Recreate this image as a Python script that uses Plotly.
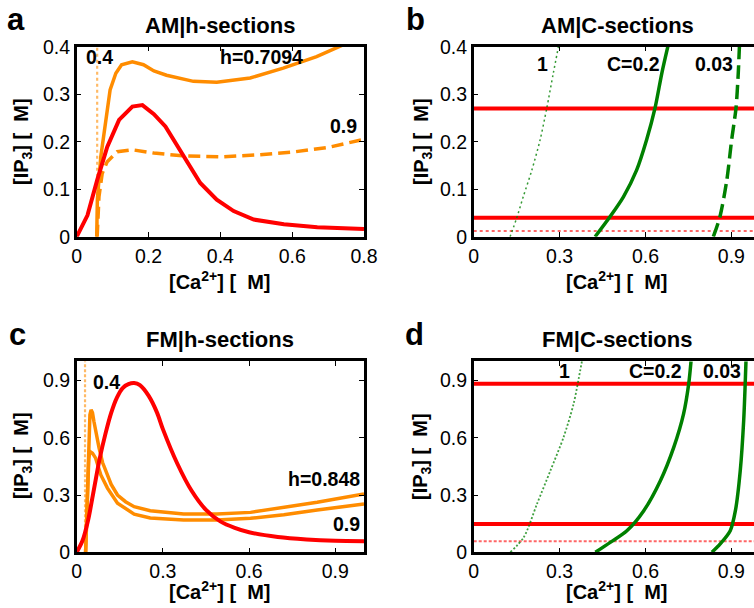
import plotly.graph_objects as go

# ---------------- data ----------------
# Panel a: AM | h-sections
a_red_x = [0, 0.03, 0.057, 0.085, 0.118, 0.155, 0.183, 0.215, 0.247, 0.298, 0.344, 0.39, 0.437, 0.493, 0.577, 0.67, 0.8]
a_red_y = [0, 0.045, 0.119, 0.189, 0.246, 0.274, 0.277, 0.258, 0.232, 0.169, 0.113, 0.078, 0.054, 0.036, 0.026, 0.02, 0.016]
a_h07094_x = [0.0557, 0.0575, 0.067, 0.081, 0.093, 0.109, 0.125, 0.155, 0.186, 0.215, 0.25, 0.325, 0.39, 0.483, 0.575, 0.668, 0.733, 0.76]
a_h07094_y = [0, 0.077, 0.168, 0.239, 0.309, 0.344, 0.362, 0.368, 0.362, 0.349, 0.34, 0.327, 0.325, 0.334, 0.355, 0.379, 0.4, 0.41]
a_h09_x = [0.057, 0.062, 0.071, 0.085, 0.113, 0.155, 0.215, 0.3, 0.4, 0.5, 0.6, 0.7, 0.8]
a_h09_y = [0, 0.084, 0.133, 0.158, 0.179, 0.183, 0.176, 0.17, 0.168, 0.172, 0.178, 0.188, 0.205]
a_h04_x = [0.057, 0.057]
a_h04_y = [0, 0.4]

# Panel b: AM | C-sections
b_C1_x = [0.127, 0.150, 0.173, 0.203, 0.232, 0.255, 0.278, 0.296]
b_C1_y = [0, 0.039, 0.084, 0.140, 0.204, 0.270, 0.344, 0.4]
b_C02_x = [0.424, 0.476, 0.523, 0.569, 0.604, 0.633, 0.657, 0.678]
b_C02_y = [0, 0.042, 0.084, 0.140, 0.204, 0.270, 0.344, 0.4]
b_C003_x = [0.837, 0.860, 0.884, 0.901, 0.916, 0.924, 0.928]
b_C003_y = [0, 0.042, 0.119, 0.204, 0.270, 0.344, 0.4]
b_red_levels = [0.270, 0.040]
b_red_dotted_level = 0.012

# Panel c: FM | h-sections
c_red_x = [0, 0.02, 0.04, 0.06, 0.08, 0.1, 0.12, 0.14, 0.16, 0.18, 0.2, 0.22, 0.25, 0.28, 0.3, 0.35, 0.4, 0.45, 0.5, 0.55, 0.6, 0.7, 0.8, 0.9, 1.0]
c_red_y = [0, 0.06, 0.17, 0.33, 0.49, 0.62, 0.73, 0.81, 0.86, 0.88, 0.886, 0.875, 0.82, 0.73, 0.645, 0.465, 0.322, 0.222, 0.162, 0.128, 0.105, 0.08, 0.067, 0.06, 0.058]
c_h0848_x = [0.031, 0.034, 0.037, 0.042, 0.046, 0.05, 0.055, 0.06, 0.07, 0.078, 0.09, 0.101, 0.12, 0.142, 0.17, 0.2, 0.256, 0.372, 0.488, 0.605, 0.721, 0.837, 1.0]
c_h0848_y = [0, 0.15, 0.336, 0.55, 0.72, 0.746, 0.73, 0.685, 0.6, 0.545, 0.47, 0.423, 0.355, 0.3, 0.265, 0.239, 0.218, 0.2, 0.2, 0.209, 0.235, 0.262, 0.305]
c_h09_x = [0.031, 0.034, 0.037, 0.042, 0.046, 0.055, 0.066, 0.084, 0.107, 0.142, 0.2, 0.256, 0.372, 0.488, 0.605, 0.721, 0.837, 1.0]
c_h09_y = [0, 0.15, 0.336, 0.49, 0.528, 0.519, 0.493, 0.405, 0.336, 0.257, 0.2, 0.18, 0.169, 0.169, 0.178, 0.197, 0.221, 0.253]
c_h04_x = [0.029, 0.029]
c_h04_y = [0, 1.0]

# Panel d: FM | C-sections
d_C1_x = [0.128, 0.175, 0.221, 0.268, 0.314, 0.349, 0.372, 0.378]
d_C1_y = [0, 0.079, 0.253, 0.428, 0.603, 0.778, 0.952, 1.0]
d_C02_x = [0.425, 0.477, 0.535, 0.594, 0.652, 0.699, 0.733, 0.751, 0.759]
d_C02_y = [0, 0.052, 0.113, 0.218, 0.375, 0.551, 0.725, 0.883, 1.0]
d_C003_x = [0.832, 0.861, 0.896, 0.914, 0.931, 0.943, 0.951]
d_C003_y = [0, 0.044, 0.113, 0.218, 0.428, 0.69, 1.0]
d_red_levels = [0.883, 0.148]
d_red_dotted_level = 0.058

hline_x = [0, 1]

# ---------------- styles ----------------
RED = "rgb(255,0,0)"
ORANGE = "rgb(255,140,0)"
GREEN = "rgb(0,128,0)"
FONT = "Liberation Sans, Arial, Helvetica, sans-serif"

fig = go.Figure()

def add(x, y, xa, ya, color, width, dash="solid", shape="linear"):
    line = dict(color=color, width=width, dash=dash, shape=shape)
    if shape == "spline":
        line["smoothing"] = 0.8
    fig.add_trace(go.Scatter(x=x, y=y, xaxis=xa, yaxis=ya, mode="lines",
                             line=line, showlegend=False, hoverinfo="skip"))

# panel a
add(a_h04_x, a_h04_y, "x", "y", "rgba(255,140,0,0.6)", 2.2, "3px,3px")
add(a_h09_x, a_h09_y, "x", "y", ORANGE, 3.5, "12px,6px")
add(a_h07094_x, a_h07094_y, "x", "y", ORANGE, 3.5)
add(a_red_x, a_red_y, "x", "y", RED, 4)

# panel b
for lv in b_red_levels:
    add(hline_x, [lv, lv], "x2", "y2", RED, 4)
add(hline_x, [b_red_dotted_level] * 2, "x2", "y2", "rgba(255,0,0,0.6)", 2, "3px,3px")
add(b_C1_x, b_C1_y, "x2", "y2", "rgba(0,128,0,0.8)", 1.5, "2px,3px", "spline")
add(b_C02_x, b_C02_y, "x2", "y2", GREEN, 3.5, "solid", "spline")
add(b_C003_x, b_C003_y, "x2", "y2", GREEN, 3.5, "14px,6px", "spline")

# panel c
add(c_h04_x, c_h04_y, "x3", "y3", "rgba(255,140,0,0.6)", 2.2, "3px,2px")
add(c_h0848_x, c_h0848_y, "x3", "y3", ORANGE, 3.5)
add(c_h09_x, c_h09_y, "x3", "y3", ORANGE, 3.5)
add(c_red_x, c_red_y, "x3", "y3", RED, 4, "solid", "spline")

# panel d
for lv in d_red_levels:
    add(hline_x, [lv, lv], "x4", "y4", RED, 4)
add(hline_x, [d_red_dotted_level] * 2, "x4", "y4", "rgba(255,0,0,0.6)", 2, "3px,2px")
add(d_C1_x, d_C1_y, "x4", "y4", "rgba(0,128,0,0.75)", 1.8, "2px,2px", "spline")
add(d_C02_x, d_C02_y, "x4", "y4", GREEN, 3.5, "solid", "spline")
add(d_C003_x, d_C003_y, "x4", "y4", GREEN, 3.5, "solid", "spline")

# ---------------- axes ----------------
XL = [76.7 / 754, 364 / 754]
XR = [473.7 / 754, 1.0]
YT = [1 - 236.7 / 608, 1 - 46.7 / 608]
YB = [1 - 552.3 / 608, 1 - 361.3 / 608]

def ax(domain, rng, tickvals, anchor, mirror=True):
    return dict(domain=domain, range=rng, anchor=anchor, automargin=False,
                tickvals=tickvals, ticktext=[("0" if v == 0 else ("%g" % v)) for v in tickvals],
                showline=True, linecolor="black", linewidth=2.5, mirror=("ticks" if mirror else False),
                ticks="inside", ticklen=5, tickwidth=1.2, tickcolor="black",
                showgrid=False, zeroline=False,
                tickfont=dict(family=FONT, size=19.5, color="black"), fixedrange=True)

fig.update_layout(
    xaxis=ax(XL, [0, 0.8], [0, 0.2, 0.4, 0.6, 0.8], "y"),
    yaxis=ax(YT, [0, 0.4], [0, 0.1, 0.2, 0.3, 0.4], "x"),
    xaxis2=ax(XR, [0, 0.979], [0, 0.3, 0.6, 0.9], "y2"),
    yaxis2=ax(YT, [0, 0.4], [0, 0.1, 0.2, 0.3, 0.4], "x2", mirror=False),
    xaxis3=ax(XL, [0, 1.0], [0, 0.3, 0.6, 0.9], "y3"),
    yaxis3=ax(YB, [0, 1.0], [0, 0.3, 0.6, 0.9], "x3"),
    xaxis4=ax(XR, [0, 0.979], [0, 0.3, 0.6, 0.9], "y4"),
    yaxis4=ax(YB, [0, 1.0], [0, 0.3, 0.6, 0.9], "x4", mirror=False),
)

# ---------------- annotations ----------------
ann = []

def txt(text, x, y, xref="paper", yref="paper", size=19.5, angle=0):
    ann.append(dict(text=text, x=x, y=y, xref=xref, yref=yref, showarrow=False,
                    xanchor="center", yanchor="middle", textangle=angle,
                    font=dict(family=FONT, size=size, color="black")))

def px(xp, yp):
    return xp / 754, 1 - yp / 608

# panel letters
for letter, (xp, yp) in [("a", (16, 19)), ("b", (415, 19)), ("c", (17, 334)), ("d", (414, 334))]:
    x, y = px(xp, yp)
    txt("<b>%s</b>" % letter, x, y, size=31)

# titles
for t, (xp, yp) in [("AM|h-sections", (220, 25)), ("AM|C-sections", (617, 25)),
                    ("FM|h-sections", (220, 339)), ("FM|C-sections", (617, 339))]:
    x, y = px(xp, yp)
    txt("<b>%s</b>" % t, x, y, size=22)

# axis titles
XT = "<b>[Ca<sup>2+</sup>] [&nbsp;&nbsp;M]</b>"
YTT = "<b>[IP<sub>3</sub>] [&nbsp;&nbsp;M]</b>"
for (xp, yp) in [(220, 280), (617, 280), (220, 590), (617, 590)]:
    x, y = px(xp, yp)
    txt(XT, x, y, size=20)
for (xp, yp) in [(22, 142), (422, 142), (22, 456), (421, 456)]:
    x, y = px(xp, yp)
    txt(YTT, x, y, size=20, angle=-90)

# curve labels
txt("<b>0.4</b>", 0.064, 0.379, "x", "y")
txt("<b>h=0.7094</b>", 0.515, 0.379, "x", "y")
txt("<b>0.9</b>", 0.743, 0.233, "x", "y")

txt("<b>1</b>", 0.239, 0.364, "x2", "y2")
txt("<b>C=0.2</b>", 0.559, 0.364, "x2", "y2")
txt("<b>0.03</b>", 0.838, 0.364, "x2", "y2")

txt("<b>0.4</b>", 0.103, 0.891, "x3", "y3")
txt("<b>h=0.848</b>", 0.861, 0.384, "x3", "y3")
txt("<b>0.9</b>", 0.94, 0.148, "x3", "y3")

txt("<b>1</b>", 0.317, 0.948, "x4", "y4")
txt("<b>C=0.2</b>", 0.634, 0.948, "x4", "y4")
txt("<b>0.03</b>", 0.867, 0.948, "x4", "y4")

fig.update_layout(annotations=ann, width=754, height=608, autosize=False,
                  margin=dict(l=0, r=0, t=0, b=0, pad=0, autoexpand=False),
                  paper_bgcolor="white", plot_bgcolor="white")

fig.write_html("out.html", config={"displayModeBar": False},
               post_script="document.body.style.margin='0';document.body.style.overflow='hidden';")
